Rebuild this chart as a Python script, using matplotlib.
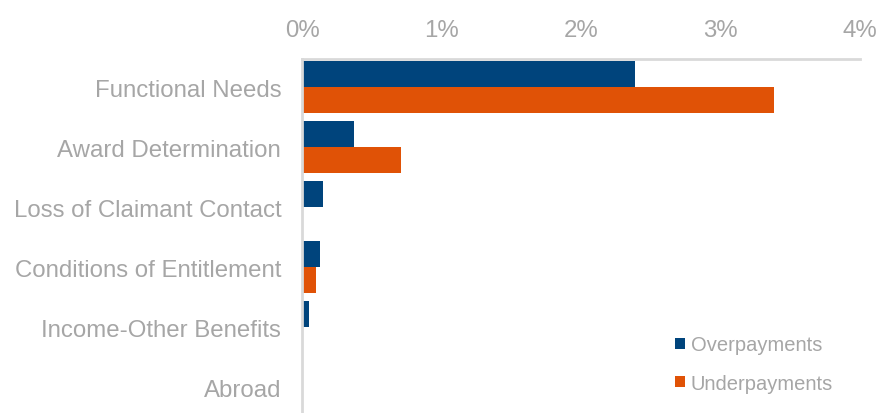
import matplotlib.pyplot as plt
import numpy as np
from matplotlib.ticker import FuncFormatter

plt.rcParams['font.family'] = ['Liberation Sans', 'DejaVu Sans']

# error categories and rates (% of expenditure)
categories = ['Functional Needs', 'Award Determination', 'Loss of Claimant Contact',
              'Conditions of Entitlement', 'Income-Other Benefits', 'Abroad']
overpayments = [2.39, 0.37, 0.15, 0.13, 0.05, 0.01]
underpayments = [3.38, 0.71, 0.0, 0.10, 0.0, 0.0]

navy = '#00447c'
orange = '#e05206'
grey_text = '#a6a6a6'
grey_line = '#d9d9d9'

fig = plt.figure(figsize=(8.77, 4.14), dpi=100)
ax = fig.add_axes([302/877, 0, (860-302)/877, 1 - 60/414])

y = np.arange(len(categories))
h = 0.43
ax.barh(y - h/2, overpayments, height=h, color=navy, label='Overpayments')
ax.barh(y + h/2, underpayments, height=h, color=orange, label='Underpayments')

ax.set_xlim(0, 4)
ax.set_ylim(5.43, -0.47)
ax.set_yticks(y)
ax.set_yticklabels(categories)
ax.set_xticks([0, 1, 2, 3, 4])
ax.xaxis.set_major_formatter(FuncFormatter(lambda v, p: f'{v:.0f}%'))
ax.xaxis.tick_top()

ax.tick_params(axis='both', length=0, labelsize=17.3, labelcolor=grey_text)
ax.tick_params(axis='x', pad=13)
ax.tick_params(axis='y', pad=15)

for side in ['right', 'bottom']:
    ax.spines[side].set_visible(False)
ax.spines['top'].set_color(grey_line)
ax.spines['top'].set_linewidth(2)
ax.spines['left'].set_color(grey_line)
ax.spines['left'].set_linewidth(2)

leg = ax.legend(loc='upper left', bbox_to_anchor=(0.668, 0.219), frameon=False,
                fontsize=14.5, handlelength=0.5, handleheight=0.5, borderpad=0,
                borderaxespad=0, handletextpad=0.3, labelspacing=0.95)
for t in leg.get_texts():
    t.set_color(grey_text)

plt.savefig('out.png', dpi=100)
